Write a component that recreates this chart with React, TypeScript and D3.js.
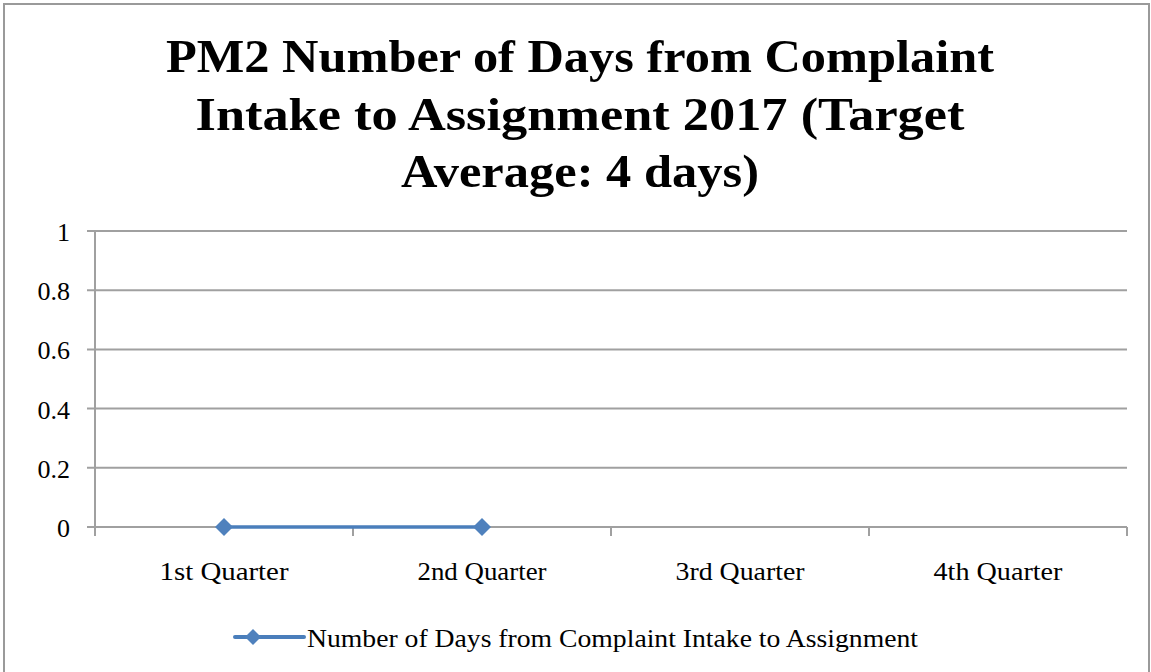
import React from 'react';
import * as d3 from 'd3';

const categories = ['1st Quarter', '2nd Quarter', '3rd Quarter', '4th Quarter'];
const values: (number | null)[] = [0, 0, null, null];
const yTicks = [0, 0.2, 0.4, 0.6, 0.8, 1];
const titleLines = [
  'PM2 Number of Days from  Complaint',
  'Intake to Assignment 2017 (Target',
  'Average: 4 days)',
];
const seriesName = 'Number of Days from Complaint Intake to Assignment';

const W = 1151;
const H = 672;
const plot = { left: 95, right: 1127, top: 231, bottom: 527 };
const font = '"Liberation Serif", "Times New Roman", serif';
const lineColor = '#4a7ebb';
const markerColor = '#4f81bd';
const gridColor = '#a0a0a0';

export default function App() {
  const x = d3.scaleBand<string>().domain(categories).range([plot.left, plot.right]);
  const y = d3.scaleLinear().domain([0, 1]).range([plot.bottom, plot.top]);

  const pts = categories
    .map((c, i) => ({ c, v: values[i] }))
    .filter(d => d.v !== null) as { c: string; v: number }[];
  const line = d3.line<{ c: string; v: number }>()
    .x(d => (x(d.c) as number) + x.bandwidth() / 2)
    .y(d => y(d.v));

  const diamond = (cx: number, cy: number, r: number) =>
    `M${cx},${cy - r}L${cx + r},${cy}L${cx},${cy + r}L${cx - r},${cy}Z`;

  const titleWidths = [828, 769, 358];
  const titleBase = [72, 130, 187];
  const edges = [...categories.map(c => x(c) as number), plot.right];

  return (
    <svg width={W} height={H} style={{ position: 'absolute', left: 0, top: 0, background: '#fff' }}>
      <rect x={4} y={4} width={W - 6} height={H + 10} fill="#fff" stroke="#9a9a9a" strokeWidth={2} />

      {titleLines.map((t, i) => (
        <text key={t} x={580} y={titleBase[i]} textAnchor="middle" fontFamily={font} fontWeight="bold"
          fontSize={47} textLength={titleWidths[i]} lengthAdjust="spacingAndGlyphs" fill="#000">
          {t}
        </text>
      ))}

      {yTicks.map(t => (
        <g key={t}>
          <line x1={plot.left - 8} x2={plot.right} y1={y(t)} y2={y(t)} stroke={gridColor} strokeWidth={2} />
          <text x={70} y={y(t) + 10} textAnchor="end" fontFamily={font} fontSize={26} fill="#000">{t}</text>
        </g>
      ))}

      <line x1={plot.left} x2={plot.left} y1={plot.top} y2={plot.bottom + 9} stroke={gridColor} strokeWidth={2} />
      {edges.map((e, i) => (
        <line key={i} x1={e} x2={e} y1={plot.bottom} y2={plot.bottom + 9} stroke={gridColor} strokeWidth={2} />
      ))}

      {categories.map(c => (
        <text key={c} x={(x(c) as number) + x.bandwidth() / 2} y={580} textAnchor="middle" fontFamily={font}
          fontSize={25} textLength={129} lengthAdjust="spacingAndGlyphs" fill="#000">{c}</text>
      ))}

      <path d={line(pts) || ''} fill="none" stroke={lineColor} strokeWidth={3.5} />
      {pts.map(d => (
        <path key={d.c} d={diamond((x(d.c) as number) + x.bandwidth() / 2, y(d.v), 9)} fill={markerColor} />
      ))}

      <line x1={235} x2={304} y1={637} y2={637} stroke={lineColor} strokeWidth={4} strokeLinecap="round" />
      <path d={diamond(253, 637, 8)} fill={markerColor} />
      <text x={307} y={647} fontFamily={font} fontSize={26} textLength={611} lengthAdjust="spacingAndGlyphs" fill="#000">
        {seriesName}
      </text>
    </svg>
  );
}
